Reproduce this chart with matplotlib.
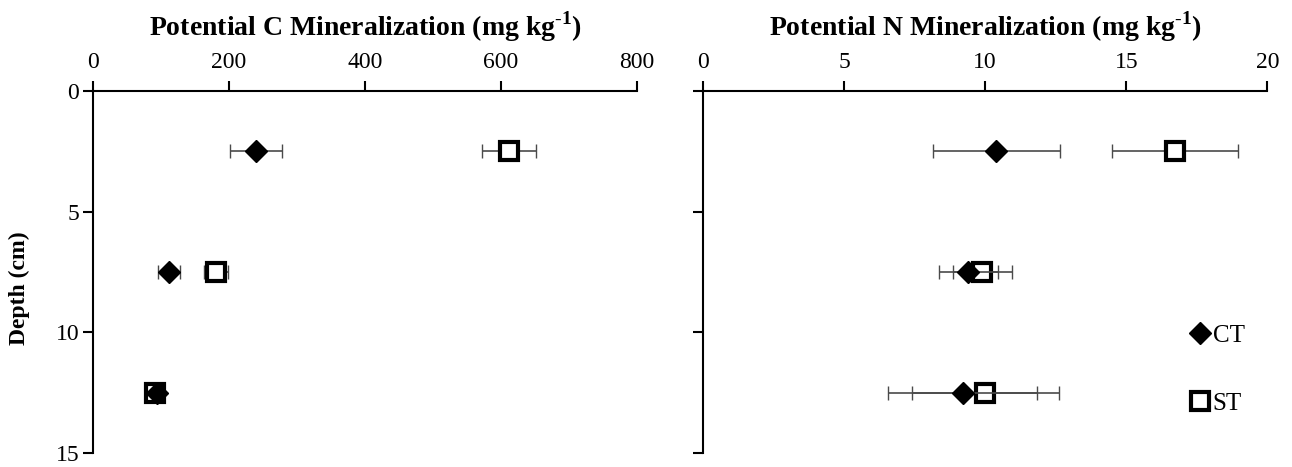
import numpy as np
import matplotlib.pyplot as plt

plt.rcParams['font.family'] = 'Liberation Serif'
plt.rcParams['mathtext.fontset'] = 'custom'
plt.rcParams['mathtext.rm'] = 'Liberation Serif'
plt.rcParams['mathtext.bf'] = 'Liberation Serif:bold'

depth = [2.5, 7.5, 12.5]

# potential C mineralization (mg/kg), mean and error
c_ct = [240, 112, 94]
c_ct_err = [38, 16, 5]
c_st = [612, 181, 91]
c_st_err = [40, 18, 5]

# potential N mineralization (mg/kg), mean and error
n_ct = [10.4, 9.4, 9.2]
n_ct_err = [2.24, 1.05, 2.65]
n_st = [16.74, 9.9, 10.0]
n_st_err = [2.23, 1.05, 2.6]

fig = plt.figure(figsize=(12.92, 4.67), dpi=100)
ax1 = fig.add_axes([0.072, 0.030, 0.421, 0.775])
ax2 = fig.add_axes([0.544, 0.030, 0.437, 0.775])

err_kw = dict(ecolor='#4a4a4a', elinewidth=1.2, capsize=5, capthick=1.0, linestyle='none')


def draw(ax, ct, ct_err, st, st_err):
    b = ax.errorbar(st, depth, xerr=st_err, marker='s', ms=13, mfc='white', mec='black',
                    zorder=3, **err_kw)
    b[0].set_markeredgewidth(3)
    a = ax.errorbar(ct, depth, xerr=ct_err, marker='D', ms=11, mfc='black', mec='black',
                    zorder=4, **err_kw)
    ax.set_ylim(15, 0)
    ax.set_yticks([0, 5, 10, 15])
    ax.xaxis.tick_top()
    ax.spines['right'].set_visible(False)
    ax.spines['bottom'].set_visible(False)
    ax.spines['top'].set_linewidth(1.5)
    ax.spines['left'].set_linewidth(1.5)
    ax.tick_params(direction='out', length=7, width=1.5, labelsize=17)
    ax.tick_params(axis='x', pad=6)
    ax.tick_params(axis='y', pad=3)
    return a, b


draw(ax1, c_ct, c_ct_err, c_st, c_st_err)
ax1.set_xlim(0, 800)
ax1.set_xticks([0, 200, 400, 600, 800])
ax1.set_title(r'Potential C Mineralization (mg kg$^{\mathbf{\text{-}1}}$)', fontsize=20,
              fontweight='bold', pad=12)
ax1.set_ylabel('Depth (cm)', fontsize=17, fontweight='bold')
ax1.yaxis.set_label_coords(-0.116, 0.456)

h_ct, h_st = draw(ax2, n_ct, n_ct_err, n_st, n_st_err)
ax2.set_xlim(0, 20)
ax2.set_xticks([0, 5, 10, 15, 20])
ax2.set_yticklabels([])
ax2.set_title(r'Potential N Mineralization (mg kg$^{\mathbf{\text{-}1}}$)', fontsize=20,
              fontweight='bold', pad=12)

ax2.legend([h_ct[0], h_st[0]], ['CT', 'ST'], loc='center left',
           bbox_to_anchor=(0.85, 0.23), frameon=False, fontsize=18,
           labelspacing=1.8, handlelength=0.6, handletextpad=0.2, borderaxespad=0)

fig.savefig('out.png', dpi=100)
